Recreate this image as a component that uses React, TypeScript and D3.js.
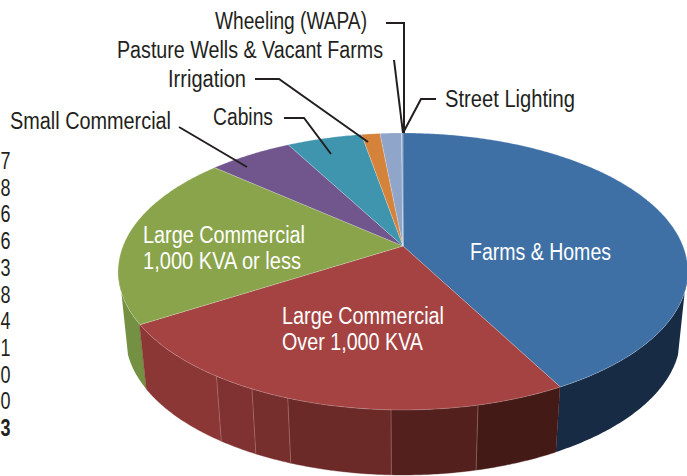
import * as d3 from "d3";

const categories = [
  "Farms & Homes",
  "Large Commercial Over 1,000 KVA",
  "Large Commercial 1,000 KVA or less",
  "Small Commercial",
  "Cabins",
  "Irrigation",
  "Pasture Wells & Vacant Farms",
  "Wheeling (WAPA)",
  "Street Lighting",
];
const shares = [42.2, 23.9, 20.3, 5.7, 5.1, 1.25, 1.45, 0.05, 0.05];
const topColours = ["#3e70a6", "#a54342", "#8aa44b", "#70568c", "#3f95ae", "#d5833b", "#8fa5c9", "#8fa5c9", "#3e70a6"];

// red wall is split in shaded facets, stops in degrees round the pie
const redWallStops = [152, 167.3, 182, 199.9, 206.8, 214.4, 238.2];
const redWallColours = ["#441a17", "#53201e", "#6b2a28", "#772f2e", "#7f3231", "#8a3735"];

// column of digits at the left edge
const cutOffDigits = ["7", "8", "6", "6", "3", "8", "4", "1", "0", "0", "3"];

const W = 687;
const H = 476;
const apex = { x: 403, y: 246 };
const persp = 0.184;
const A = 280;
const B = 133.8;
const depth = 65;
const bottomShrink = 0.974;
const FONT = "'Liberation Sans', Arial, sans-serif";
const FONT_SIZE = 23;
const INK = "#231f20";

// pie angle (radians, clockwise from 12 o'clock) to screen point on the top rim
const rim = (a: number, r = 1): [number, number] => {
  const u = r * Math.sin(a);
  const v = -r * Math.cos(a);
  const w = 1 - persp * v;
  return [apex.x + (A * u) / w, apex.y + (B * v) / w];
};
const rimBottom = (a: number): [number, number] => {
  const [x, y] = rim(a);
  return [apex.x + (x - apex.x) * bottomShrink, y + depth];
};

const rad = d3.scaleLinear().domain([0, 360]).range([0, 2 * Math.PI]);
const line = d3.line();

const sweep = (a0: number, a1: number) => {
  const n = Math.max(2, Math.ceil(Math.abs(a1 - a0) / 0.01));
  return d3.range(n + 1).map((i) => a0 + ((a1 - a0) * i) / n);
};

// top edge runs a0..a1, bottom edge comes back from b1 (the tangent end) to a0
const wall = (a0: number, a1: number, b1 = a1) => {
  const top = sweep(a0, a1).map((a) => rim(a));
  const bottom = sweep(b1, a0).map((a) => rimBottom(a));
  return line([...top, ...bottom]) + "Z";
};

const pieAngles = d3
  .pie<number>()
  .sort(null)
  .value((d) => d)(shares);

const inLabels = [
  { lines: ["Farms & Homes"], x: 470, ys: [260], ws: [141] },
  { lines: ["Large Commercial", "Over 1,000 KVA"], x: 282, ys: [324, 350], ws: [162, 141] },
  { lines: ["Large Commercial", "1,000 KVA or less"], x: 143, ys: [243, 269], ws: [162, 158] },
];
const outLabels = [
  { text: "Small Commercial", x: 10, y: 129, w: 161, leader: [[179, 127], [247, 167]] },
  { text: "Cabins", x: 213, y: 125, w: 60, leader: [[284, 118], [304, 118], [331, 154]] },
  { text: "Irrigation", x: 168, y: 87, w: 78, leader: [[255, 79], [279, 79], [368, 142]] },
  { text: "Pasture Wells & Vacant Farms", x: 117, y: 58, w: 266, leader: [[394, 60], [403, 133]] },
  { text: "Wheeling (WAPA)", x: 215, y: 29, w: 152, leader: [[386, 23], [404, 23], [404, 133]] },
  { text: "Street Lighting", x: 445, y: 107, w: 130, leader: [[436, 99], [421, 99], [403, 133]] },
];

export default function App() {
  const digitY = d3
    .scalePoint<number>()
    .domain(d3.range(cutOffDigits.length))
    .range([169, 436]);

  return (
    <svg
      width={W}
      height={H}
      viewBox={`0 0 ${W} ${H}`}
      style={{ position: "absolute", left: 0, top: 0, background: "#fff" }}
      fontFamily={FONT}
    >
      {/* side walls */}
      <path d={wall(rad(152), rad(98), rad(108))} fill="#182b44" />
      <path d={wall(rad(238.2), rad(262), rad(252))} fill="#739043" />
      {redWallColours.map((c, i) => (
        <path key={i} d={wall(rad(redWallStops[i]), rad(redWallStops[i + 1]))} fill={c} stroke={c} strokeWidth={0.4} />
      ))}
      {redWallStops.slice(1, -1).map((s) => (
        <path
          key={s}
          d={line([rim(rad(s)), rimBottom(rad(s))]) as string}
          stroke="#c99a98"
          strokeOpacity={0.55}
          strokeWidth={0.7}
          fill="none"
        />
      ))}

      {/* top face */}
      {pieAngles.map((p, i) => (
        <path
          key={categories[i]}
          d={line([[apex.x, apex.y], ...sweep(p.startAngle, p.endAngle).map((a) => rim(a))]) + "Z"}
          fill={topColours[i]}
          stroke="#fff"
          strokeOpacity={0.3}
          strokeWidth={0.7}
        />
      ))}

      {/* leaders and outside labels */}
      {outLabels.map((l) => (
        <g key={l.text}>
          <path d={line(l.leader as [number, number][]) as string} fill="none" stroke={INK} strokeWidth={2} />
          <text
            x={l.x}
            y={l.y}
            fontSize={FONT_SIZE}
            fill={INK}
            textLength={l.w}
            lengthAdjust="spacingAndGlyphs"
          >
            {l.text}
          </text>
        </g>
      ))}

      {/* labels on the slices */}
      {inLabels.map((l) =>
        l.lines.map((t, j) => (
          <text
            key={t + l.x}
            x={l.x}
            y={l.ys[j]}
            fontSize={FONT_SIZE}
            fill="#fff"
            textLength={l.ws[j]}
            lengthAdjust="spacingAndGlyphs"
          >
            {t}
          </text>
        ))
      )}

      {/* digits */}
      {cutOffDigits.map((d, i) => (
        <text
          key={i}
          x={0.5}
          y={digitY(i)}
          fontSize={FONT_SIZE}
          fill={INK}
          textLength={10}
          lengthAdjust="spacingAndGlyphs"
          fontWeight={i === cutOffDigits.length - 1 ? 700 : 400}
        >
          {d}
        </text>
      ))}
    </svg>
  );
}
